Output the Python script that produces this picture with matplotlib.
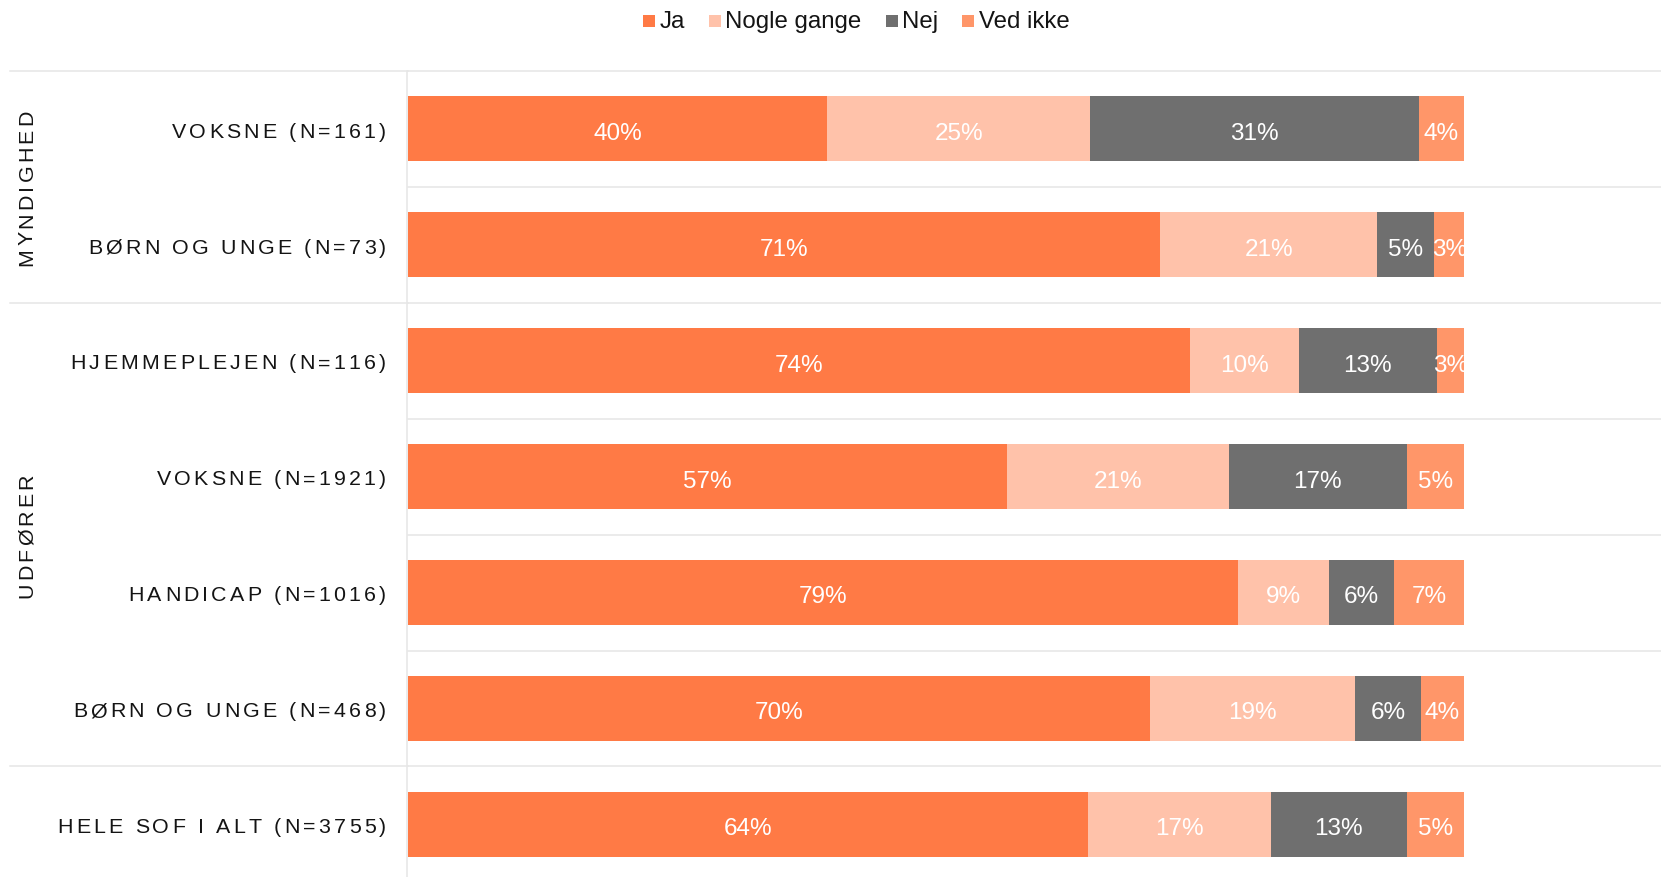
import matplotlib
matplotlib.use("Agg")
import matplotlib.pyplot as plt
from matplotlib.font_manager import FontProperties, findfont
from matplotlib.ft2font import FT2Font
from matplotlib.lines import Line2D
from matplotlib.patches import Rectangle
from matplotlib.transforms import IdentityTransform

# ---- data -------------------------------------------------------------
categories = [
    "VOKSNE (N=161)",
    "BØRN OG UNGE (N=73)",
    "HJEMMEPLEJEN (N=116)",
    "VOKSNE (N=1921)",
    "HANDICAP (N=1016)",
    "BØRN OG UNGE (N=468)",
    "HELE SOF I ALT (N=3755)",
]
groups = ["MYNDIGHED", "UDFØRER", ""]
group_sizes = [2, 4, 1]
series_names = ["Ja", "Nogle gange", "Nej", "Ved ikke"]
ja = [39.7, 71.2, 74.1, 56.7, 78.6, 70.3, 64.4]
nogle_gange = [24.9, 20.6, 10.3, 21.0, 8.6, 19.4, 17.3]
nej = [31.1, 5.4, 13.0, 16.9, 6.2, 6.2, 12.9]
ved_ikke = [4.3, 2.8, 2.6, 5.4, 6.6, 4.1, 5.4]
series_colors = ["#FF7A45", "#FFC2AA", "#6F6F6F", "#FF9669"]

# ---- figure setup -----------------------------------------------------
W, H, DPI = 1661, 878, 100
FONT = "Liberation Sans"
plt.rcParams["font.family"] = [FONT, "DejaVu Sans"]
GRID = "#E6E6E6"
INK = "#141414"

fig = plt.figure(figsize=(W / DPI, H / DPI), dpi=DPI)
fig.patch.set_facecolor("white")

ax_left, ax_top, row_h = 408, 72, 115.9
n = len(categories)
ax = fig.add_axes([ax_left / W, (H - ax_top - n * row_h) / H,
                   (W - ax_left) / W, n * row_h / H])
full_px = 1464 - ax_left  # width of a 100 % bar
ax.set_xlim(0, 100 * (W - ax_left) / full_px)
ax.set_ylim(n - 0.5, -0.5)
ax.axis("off")

series = [ja, nogle_gange, nej, ved_ikke]
ypos = list(range(n))
lefts = [0.0] * n
for vals, color in zip(series, series_colors):
    ax.barh(ypos, vals, left=lefts, height=0.56, color=color,
            linewidth=0, zorder=3)
    for i, (l, v) in enumerate(zip(lefts, vals)):
        ax.text(l + v / 2, i + 0.012, f"{v:.0f}%", ha="center",
                va="center_baseline", color="white", fontsize=17.5,
                zorder=4)
    lefts = [l + v for l, v in zip(lefts, vals)]

# row separators
for k in range(n + 1):
    ax.axhline(k - 0.5, color=GRID, lw=1.1, zorder=1, clip_on=False)

ident = IdentityTransform()
fig.canvas.draw()


def to_disp(x, y):
    return ax.transData.transform((x, y))


# group separators reach out to the left margin, plus the vertical divider
bounds = [0]
for s in group_sizes:
    bounds.append(bounds[-1] + s)
for b in bounds[:-1]:
    _, yd = to_disp(0, b - 0.5)
    fig.add_artist(Line2D([10, ax_left], [yd, yd], color=GRID, lw=1.1,
                          transform=ident, zorder=1))
fig.add_artist(Line2D([ax_left - 1.5, ax_left - 1.5], [0, H - ax_top],
                      color=GRID, lw=1.1, transform=ident, zorder=1))

# ---- letter-spaced labels ---------------------------------------------
_font = FT2Font(findfont(FontProperties(family=FONT)))


def advances(s, size):
    _font.set_size(size, DPI)
    return [_font.load_char(ord(c)).linearHoriAdvance / 65536 for c in s]


def spaced_text(x, y, s, size, track, align="right", rotation=0, **kw):
    adv = advances(s, size)
    total = sum(adv) + track * (len(s) - 1)
    if align == "right":
        start = -total
    elif align == "center":
        start = -total / 2
    else:
        start = 0.0
    dx, dy = (1, 0) if rotation == 0 else (0, 1)
    pos = start
    for c, a in zip(s, adv):
        fig.text(x + dx * pos, y + dy * pos, c, transform=ident,
                 fontsize=size, ha="left", va="baseline",
                 rotation=rotation, rotation_mode="anchor", **kw)
        pos += a + track


LABEL_SIZE = 15.4
TRACK = 3.2
cap_px = 0.716 * LABEL_SIZE * DPI / 72
for i, name in enumerate(categories):
    _, yd = to_disp(0, i)
    spaced_text(386, yd - cap_px / 2, name, LABEL_SIZE, TRACK,
                align="right", color=INK)

for g, b0, b1 in zip(groups, bounds[:-1], bounds[1:]):
    if not g:
        continue
    _, ya = to_disp(0, b0 - 0.5)
    _, yb = to_disp(0, b1 - 0.5)
    spaced_text(32.5, (ya + yb) / 2, g, LABEL_SIZE, TRACK, align="center",
                rotation=90, color=INK)

# ---- legend -----------------------------------------------------------
renderer = fig.canvas.get_renderer()
lx = 643
ly = H - 21.8          # centre of the colour squares
baseline = H - 28.3    # text baseline
sq = 12
for name, color in zip(series_names, series_colors):
    fig.add_artist(Rectangle((lx, ly - sq / 2), sq, sq, facecolor=color,
                             edgecolor="none", transform=ident))
    t = fig.text(lx + sq + 4.5, baseline, name, transform=ident,
                 fontsize=17.3, ha="left", va="baseline", color=INK)
    w = t.get_window_extent(renderer).width
    lx = lx + sq + 4.5 + w + 24

fig.savefig("out.png", dpi=DPI, facecolor="white")
